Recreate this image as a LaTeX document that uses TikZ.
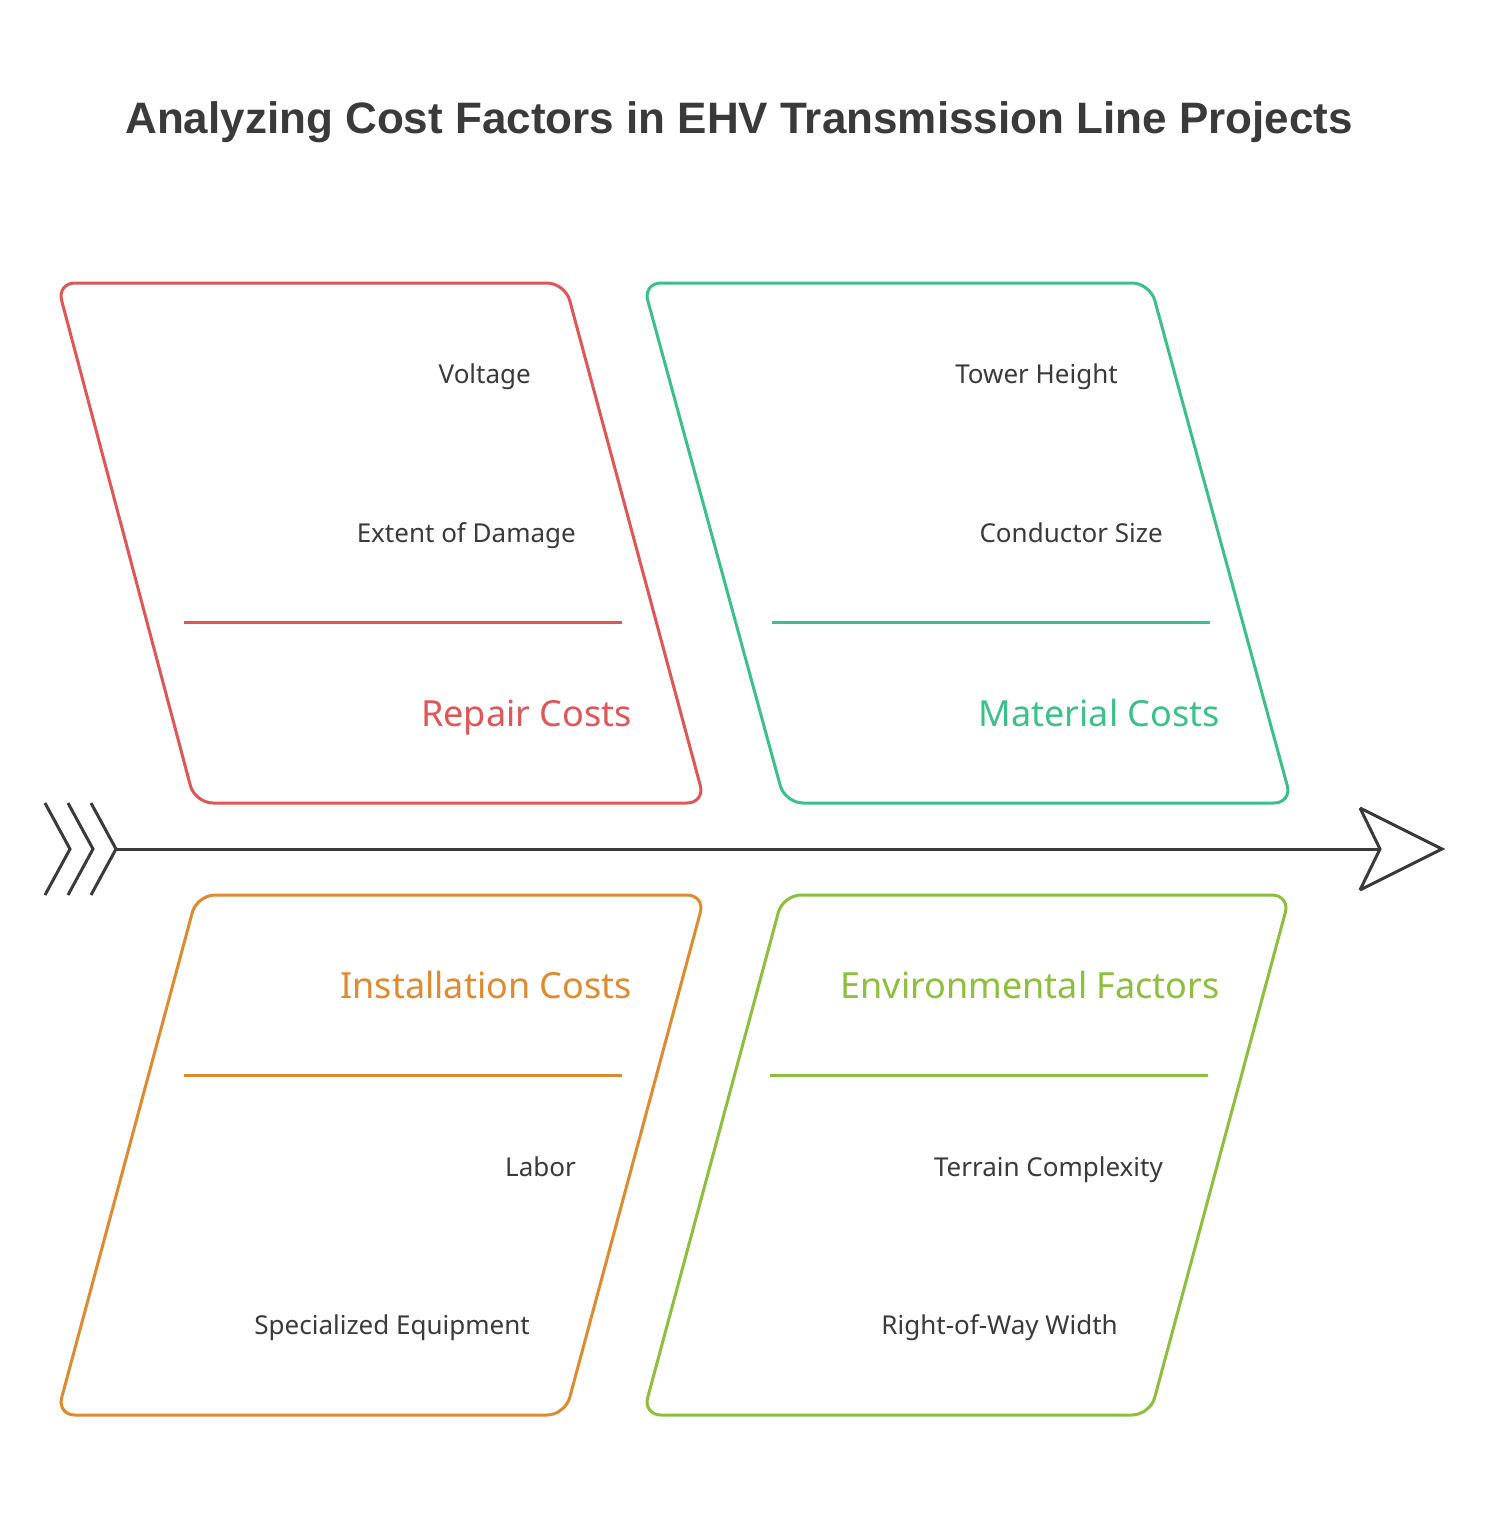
\documentclass[tikz,border=0pt]{standalone}
\usepackage{fontspec}
\setmainfont{Noto Sans}
\newfontfamily\titlefont{Liberation Sans}
\definecolor{repairc}{HTML}{E05555}
\definecolor{materialc}{HTML}{3CC08A}
\definecolor{installc}{HTML}{E08A30}
\definecolor{envc}{HTML}{8DBE3C}
\definecolor{inkc}{HTML}{3A3A3A}
\tikzset{
  box/.style={line width=3pt, rounded corners=18pt},
  factor/.style={anchor=base east, text=inkc, font=\fontsize{26}{30}\selectfont, inner sep=0pt},
  heading/.style={anchor=base east, font=\fontsize{36}{40}\selectfont, inner sep=0pt},
  spine/.style={line width=3pt, inkc},
}
\begin{document}
\begin{tikzpicture}[x=1pt, y=-1pt]
        \useasboundingbox[fill=white] (0,0) rectangle (1490,1524);

        % Title
        \node[anchor=base, text=inkc, font=\fontsize{44}{50}\selectfont\titlefont\bfseries, inner sep=0pt] (title) at (739,133) {Analyzing Cost Factors in EHV Transmission Line Projects};

        % Draw boxes
        \draw[box, repairc] (57,283) -- (565,283) -- (705,803) -- (195,803) -- cycle;
        \draw[box, materialc] (643,283) -- (1150,283) -- (1292,803) -- (785,803) -- cycle;
        \draw[box, installc] (197,895) -- (705,895) -- (565,1415) -- (57,1415) -- cycle;
        \draw[box, envc] (783,895) -- (1290,895) -- (1150,1415) -- (643,1415) -- cycle;

        % Draw dividers
        \draw[line width=3pt, repairc] (184,622) -- (622,622);
        \draw[line width=3pt, materialc] (772,622) -- (1210,622);
        \draw[line width=3pt, installc] (184,1075) -- (622,1075);
        \draw[line width=3pt, envc] (770,1075) -- (1208,1075);

        % Add labels
        \node[factor] (voltage) at (531,383) {Voltage};
        \node[factor] (damage) at (576,542) {Extent of Damage};
        \node[heading, text=repairc] (repair) at (632,726) {Repair Costs};
        \node[factor] (tower) at (1118,383) {Tower Height};
        \node[factor] (conductor) at (1163,542) {Conductor Size};
        \node[heading, text=materialc] (material) at (1220,726) {Material Costs};
        \node[heading, text=installc] (install) at (632,998) {Installation Costs};
        \node[factor] (labor) at (576,1176) {Labor};
        \node[factor] (equipment) at (530,1334) {Specialized Equipment};
        \node[heading, text=envc] (env) at (1220,998) {Environmental Factors};
        \node[factor] (terrain) at (1163,1176) {Terrain Complexity};
        \node[factor] (width) at (1118,1334) {Right-of-Way Width};

        % Draw spine
        \coordinate (tail) at (115,849);
        \coordinate (head) at (1380,849);
        \draw[spine] (tail) -- (head);
        \draw[spine, line join=miter] (1360,808) -- (1442,849) -- (1360,890);
        \draw[spine] (1360,808) -- (head) -- (1360,890);
        \foreach \dx in {0,23,46}
            \draw[spine] (45+\dx,803) -- (70+\dx,849) -- (45+\dx,895);
    \end{tikzpicture}
\end{document}
